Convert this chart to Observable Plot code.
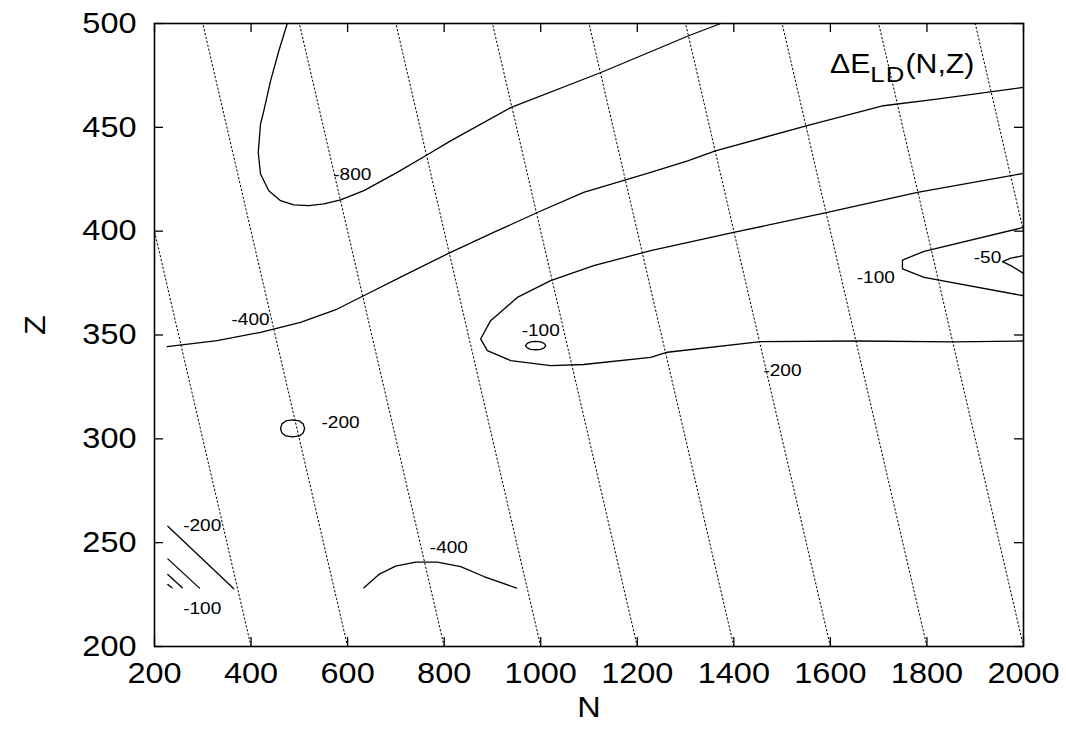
<!DOCTYPE html>
<html><head><meta charset="utf-8">
<script src="https://cdn.jsdelivr.net/npm/d3@7"></script>
<script src="https://cdn.jsdelivr.net/npm/@observablehq/plot@0.6"></script>
<style>
html,body{margin:0;padding:0;background:#fff;}
</style></head>
<body><div id="chart"></div>
<script>
// ---- tick values ----
const xTicks = [200, 400, 600, 800, 1000, 1200, 1400, 1600, 1800, 2000];
const yTicks = [200, 250, 300, 350, 400, 450, 500];
// lines of constant mass number A = N + Z (dotted)
const massA = [600, 800, 1000, 1200, 1400, 1600, 1800, 2000, 2200, 2400];

// ---- contour lines [N, Z] ----
const c800 = [[475,500],[457.6,486.9],[440.4,472.4],[426.5,458.0],[419.6,451.6],[414.9,437.9],[419.6,427.5],[436.8,419.5],[461.1,414.7],[488.6,412.7],[519.7,412.3],[550.8,413.1],[585.4,415.1],[633.7,419.5],[702.9,428.3],[765.1,436.8],[813.3,443.5],[938.9,459.6],[1124.8,476.4],[1306.5,494.1],[1372.8,500]];
const c400 = [[226.3,344.4],[329.9,347.3],[419.6,351.3],[502.5,356.1],[578.6,362.5],[633.1,368.9],[716.0,378.6],[813.3,389.8],[902.4,399.4],[993.0,409.0],[1088.9,418.7],[1227.8,428.3],[1304.4,433.9],[1362.0,438.7],[1551.8,450.8],[1709.9,460.4],[1820.4,463.6],[2000,469.2]];
const c400low = [[633.7,228.3],[664.8,234.7],[699.4,238.7],[740.8,240.6],[785.8,240.6],[834.1,238.5],[882.3,233.7],[950.1,228.1]];
const c200 = [[2000,427.8],[1780.4,418.7],[1593.9,409.0],[1399.7,399.4],[1227.8,390.6],[1109.7,383.4],[1020.6,376.2],[951.5,368.1],[896.2,356.9],[875.5,348.1],[889.4,342.5],[937.7,337.7],[1020.6,335.3],[1088.9,335.8],[1227.8,339.2],[1262.4,341.7],[1455.7,346.8],[1656.1,347.1],[1855.6,346.7],[2000,347.1]];
const c200loop = [[461,305],[464,307.2],[472,308.6],[486,309.1],[500,308.6],[508,307.2],[511,305],[508,302.8],[500,301.4],[486,300.9],[472,301.4],[464,302.8],[461,305]];
const c200corner = [[227.6,257.9],[364.3,227.8]];
const c100cornerA = [[227.6,242.2],[293.2,228.1]];
const c100cornerB = [[227.6,234.7],[257.4,228.3]];
const c100cornerC = [[227.6,229.9],[236.3,228.3]];
const c100loop = [[968.5,344.9],[972,346.0],[979,346.7],[989.5,346.9],[1000,346.7],[1007,346.0],[1010.5,344.9],[1007,343.8],[1000,343.1],[989.5,342.9],[979,343.1],[972,343.8],[968.5,344.9]];
const c100right = [[2000,401.8],[1794.1,390.3],[1749.3,386.1],[1749.3,381.8],[1794.1,377.7],[2000,368.9]];
const c50 = [[2000,388.2],[1973.7,387.0],[1956.5,385.3],[1973.7,383.4],[2000,379.7]];

// ---- contour labels ----
const labelText = ["-800", "-400", "-100", "-200", "-100", "-50", "-200", "-200", "-100", "-400"];
const labelN    = [609.7, 398.9, 1000, 1500.7, 1694, 1925.4, 585.4, 298.8, 298.8, 809.8];
const labelZ    = [427.5, 357.2, 352.1, 332.8, 377.8, 387.4, 307.8, 258.2, 218.1, 247.8];

// ---- build tables ----
const contours = [c800, c400, c400low, c200, c200loop, c200corner, c100cornerA, c100cornerB, c100cornerC, c100loop, c100right, c50];
const lineRows = contours.flatMap((pts, i) => pts.map(([n, z]) => ({n, z, id: i})));
const isoRows = massA.flatMap(A => {
  const z1 = Math.max(200, A - 2000), z2 = Math.min(500, A - 200);
  return [{n: A - z1, z: z1, A}, {n: A - z2, z: z2, A}];
});
const labels = labelText.map((t, i) => ({t, n: labelN[i], z: labelZ[i]}));

const W = 1066, H = 730, mL = 154, mR = 43, mT = 23, mB = 84;
const fw = W - mL - mR, fh = H - mT - mB, TL = 9;
const FONT = "'Liberation Sans', Arial, Helvetica, sans-serif";

const svg = Plot.plot({
  width: W, height: H,
  marginLeft: mL, marginRight: mR, marginTop: mT, marginBottom: mB,
  style: {fontFamily: FONT, fontSize: "29px", background: "#fff", color: "#000"},
  x: {domain: [200, 2000]},
  y: {domain: [200, 500]},
  marks: [
    Plot.line(isoRows, {x: "n", y: "z", z: "A", stroke: "#000", strokeWidth: 1, strokeDasharray: "1.5,2.5"}),
    Plot.line(lineRows, {x: "n", y: "z", z: "id", stroke: "#000", strokeWidth: 1.3}),
    Plot.text(labels, {x: "n", y: "z", text: "t", fontSize: 17, fill: "#000"}),
    Plot.tickX(xTicks, {x: d => d, insetTop: fh - TL, stroke: "#000", strokeWidth: 1.3}),
    Plot.tickX(xTicks, {x: d => d, insetBottom: fh - TL, stroke: "#000", strokeWidth: 1.3}),
    Plot.tickY(yTicks, {y: d => d, insetLeft: fw - TL, stroke: "#000", strokeWidth: 1.3}),
    Plot.tickY(yTicks, {y: d => d, insetRight: fw - TL, stroke: "#000", strokeWidth: 1.3}),
    Plot.frame({stroke: "#000", strokeWidth: 1.6}),
    Plot.axisX(xTicks, {anchor: "bottom", tickSize: 0, tickPadding: 16, label: null, tickFormat: d => String(d)}),
    Plot.axisY(yTicks, {anchor: "left", tickSize: 0, tickPadding: 18, label: null, tickFormat: d => String(d)}),
    Plot.text(["N"], {frameAnchor: "bottom", text: d => d, dy: 70, fontSize: 29}),
    Plot.text(["Z"], {frameAnchor: "left", text: d => d, dx: -119, rotate: -90, fontSize: 29})
  ]
});

// title with subscript
const ns = "http://www.w3.org/2000/svg";
const title = document.createElementNS(ns, "text");
title.setAttribute("x", 830); title.setAttribute("y", 72.5);
title.setAttribute("text-anchor", "start");
title.setAttribute("font-size", 27); title.setAttribute("fill", "#000");
title.setAttribute("font-family", FONT);
const t1 = document.createElementNS(ns, "tspan"); t1.textContent = "ΔE";
const t2 = document.createElementNS(ns, "tspan"); t2.textContent = "LD";
t2.setAttribute("dy", 9); t2.setAttribute("font-size", 23); t2.setAttribute("letter-spacing", "1");
const t3 = document.createElementNS(ns, "tspan"); t3.textContent = "(N,Z)";
t3.setAttribute("dy", -9); t3.setAttribute("font-size", 27);
title.append(t1, t2, t3);
svg.appendChild(title);

// slight horizontal stretch of all text, as in the reference
const S = 1.12;
const isNum = v => v != null && v !== "" && !isNaN(+v);
svg.querySelectorAll("text").forEach(t => {
  const ax = t.getAttribute("x"), ay = t.getAttribute("y");
  let x = 0, y = 0;
  if (isNum(ax)) { x = +ax; t.removeAttribute("x"); }
  if (isNum(ay)) { y = +ay; t.removeAttribute("y"); }
  const tr = t.getAttribute("transform") || "";
  t.setAttribute("transform", `${tr} translate(${x},${y}) scale(${S},1)`);
});

document.getElementById("chart").appendChild(svg);
</script>
</body></html>
